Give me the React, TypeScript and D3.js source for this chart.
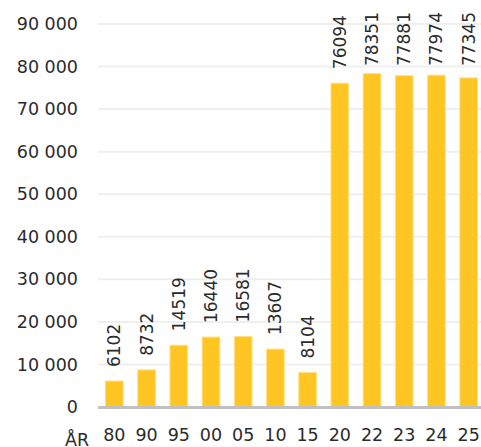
import React, { useRef, useEffect } from 'react';
import * as d3 from 'd3';

const years = ['80', '90', '95', '00', '05', '10', '15', '20', '22', '23', '24', '25'];
const values = [6102, 8732, 14519, 16440, 16581, 13607, 8104, 76094, 78351, 77881, 77974, 77345];
const yTicks = [0, 10000, 20000, 30000, 40000, 50000, 60000, 70000, 80000, 90000];
const axisTitle = 'ÅR';

const W = 481;
const H = 447;
const FONT = '"DejaVu Sans", sans-serif';

const App = () => {
  const svgRef = useRef<SVGSVGElement>(null);

  useEffect(() => {
    document.body.style.margin = '0';

    const x = d3.scaleBand<string>()
      .domain(years)
      .range([91, 492])
      .padding(0.45);
    const y = d3.scaleLinear()
      .domain([0, 90000])
      .range([407, 24]);

    const svg = d3.select(svgRef.current)
      .attr('width', W)
      .attr('height', H)
      .html('');

    const fmt = (v: number) => d3.format(',')(v).replace(/,/g, ' ');

    // Gridlines
    svg.append('g')
      .selectAll('line')
      .data(yTicks.filter(t => t > 0))
      .join('line')
      .attr('x1', 98)
      .attr('x2', W)
      .attr('y1', d => y(d))
      .attr('y2', d => y(d))
      .attr('stroke', '#efefef')
      .attr('stroke-width', 2);

    // Y tick labels
    svg.append('g')
      .selectAll('text')
      .data(yTicks)
      .join('text')
      .attr('x', 78)
      .attr('y', d => y(d))
      .attr('dy', '0.35em')
      .attr('text-anchor', 'end')
      .attr('font-family', FONT)
      .attr('font-size', 17.5)
      .attr('fill', '#2b2b2b')
      .text(d => fmt(d));

    // Bars
    svg.append('g')
      .selectAll('rect')
      .data(values)
      .join('rect')
      .attr('x', (d, i) => x(years[i])!)
      .attr('y', d => y(d))
      .attr('width', x.bandwidth())
      .attr('height', d => y(0) - y(d))
      .attr('fill', '#ffc522')
      .attr('stroke', '#ffe08a')
      .attr('stroke-width', 1);

    // Baseline
    svg.append('line')
      .attr('x1', 98)
      .attr('x2', W)
      .attr('y1', y(0) + 0.5)
      .attr('y2', y(0) + 0.5)
      .attr('stroke', '#c0c0c0')
      .attr('stroke-width', 3);

    // Value labels, rotated; kept inside the top edge
    svg.append('g')
      .selectAll('text')
      .data(values)
      .join('text')
      .attr('text-anchor', 'start')
      .attr('dy', '0.35em')
      .attr('font-family', FONT)
      .attr('font-size', 17)
      .attr('fill', '#2b2b2b')
      .text(d => String(d))
      .each(function (d, i) {
        const len = (this as SVGTextElement).getComputedTextLength();
        const cx = x(years[i])! + x.bandwidth() / 2;
        const y0 = Math.max(y(d) - 14, 12 + len);
        d3.select(this).attr('transform', `translate(${cx},${y0}) rotate(-90)`);
      });

    // X labels
    svg.append('g')
      .selectAll('text')
      .data(years)
      .join('text')
      .attr('x', d => x(d)! + x.bandwidth() / 2)
      .attr('y', 441)
      .attr('text-anchor', 'middle')
      .attr('font-family', FONT)
      .attr('font-size', 17.5)
      .attr('fill', '#2b2b2b')
      .text(d => d);

    svg.append('text')
      .attr('x', 77)
      .attr('y', 446)
      .attr('text-anchor', 'middle')
      .attr('font-family', FONT)
      .attr('font-size', 17.5)
      .attr('fill', '#2b2b2b')
      .text(axisTitle);
  }, []);

  return <svg ref={svgRef} style={{ display: 'block', overflow: 'hidden' }} />;
};

export default App;
